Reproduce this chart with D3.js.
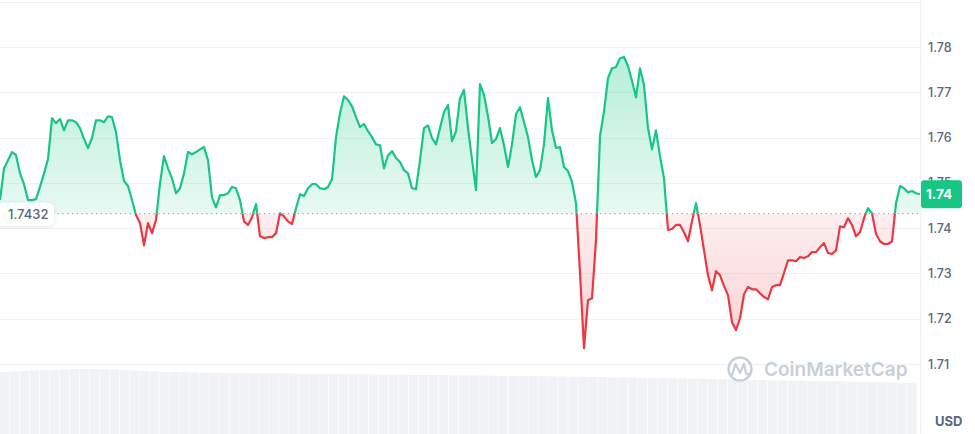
<!DOCTYPE html>
<html>
<head>
<meta charset="utf-8">
<script src="https://cdn.jsdelivr.net/npm/d3@7"></script>
<style>
  html, body { margin: 0; padding: 0; background: #ffffff; }
  svg { display: block; font-family: Inter, "Noto Sans", sans-serif; }
</style>
</head>
<body>
<svg id="chart" width="975" height="434"></svg>
<script>
// ---- data ----
const prices = [
  1.7462,1.7532,1.7550,1.7568,1.7561,1.7521,1.7497,1.7462,1.7462,1.7464,
  1.7491,1.7521,1.7552,1.7643,1.7632,1.7641,1.7616,1.7638,1.7638,1.7634,
  1.7621,1.7597,1.7577,1.7599,1.7638,1.7638,1.7634,1.7647,1.7645,1.7612,
  1.7550,1.7504,1.7493,1.7462,1.7429,1.7411,1.7362,1.7411,1.7389,1.7418,
  1.7499,1.7559,1.7532,1.7510,1.7477,1.7488,1.7521,1.7568,1.7563,1.7568,
  1.7574,1.7579,1.7550,1.7468,1.7446,1.7473,1.7473,1.7477,1.7491,1.7488,
  1.7462,1.7415,1.7407,1.7424,1.7453,1.7382,1.7378,1.7380,1.7380,1.7389,
  1.7433,1.7426,1.7415,1.7409,1.7444,1.7475,1.7471,1.7488,1.7497,1.7497,
  1.7488,1.7486,1.7491,1.7508,1.7601,1.7654,1.7691,1.7683,1.7669,1.7645,
  1.7623,1.7630,1.7614,1.7601,1.7585,1.7583,1.7532,1.7561,1.7570,1.7555,
  1.7546,1.7528,1.7521,1.7488,1.7486,1.7550,1.7621,1.7627,1.7599,1.7585,
  1.7621,1.7656,1.7672,1.7592,1.7614,1.7687,1.7705,1.7621,1.7552,1.7484,
  1.7718,1.7694,1.7647,1.7588,1.7597,1.7621,1.7583,1.7535,1.7585,1.7652,
  1.7667,1.7634,1.7601,1.7550,1.7513,1.7528,1.7585,1.7687,1.7616,1.7577,
  1.7579,1.7535,1.7526,1.7502,1.7455,1.7301,1.7135,1.7241,1.7245,1.7374,
  1.7603,1.7658,1.7731,1.7753,1.7756,1.7775,1.7778,1.7758,1.7725,1.7689,
  1.7753,1.7716,1.7621,1.7574,1.7616,1.7559,1.7510,1.7396,1.7398,1.7407,
  1.7407,1.7391,1.7371,1.7415,1.7455,1.7407,1.7351,1.7296,1.7263,1.7305,
  1.7296,1.7272,1.7252,1.7192,1.7175,1.7201,1.7254,1.7270,1.7265,1.7265,
  1.7256,1.7248,1.7243,1.7270,1.7274,1.7274,1.7301,1.7329,1.7329,1.7327,
  1.7336,1.7334,1.7338,1.7347,1.7347,1.7358,1.7367,1.7345,1.7343,1.7351,
  1.7404,1.7402,1.7422,1.7407,1.7382,1.7391,1.7422,1.7444,1.7433,1.7387,
  1.7371,1.7365,1.7365,1.7371,1.7455,1.7493,1.7488,1.7479,1.7482,1.7477,
  1.7475
];
const openPrice = 1.7432;
const openLabel = "1.7432";
const yTickValues = [1.71, 1.72, 1.73, 1.74, 1.75, 1.76, 1.77, 1.78];
const yTickLabels = ["1.71", "1.72", "1.73", "1.74", "1.75", "1.76", "1.77", "1.78"];
const currencyLabel = "USD";
const watermarkText = "CoinMarketCap";
// 24h volume (relative units)
const volumes = [
  62,62.5,63,63.5,64,64,64.5,65,65,65,
  64.8,64.5,64,63.5,63,62.5,62,62,61.8,61.5,
  61.5,61.3,61.2,61,61,60.8,60.8,60.6,60.5,60.5,
  60.3,60.2,60,60,59.8,59.7,59.6,59.5,59.4,59.3,
  59.2,59.1,59,58.9,58.8,58.7,58.6,58.5,58.4,58.3,
  58.2,58.1,58,57.9,57.8,57.7,57.5,57.3,57.2,57,
  56.9,56.8,56.6,56.4,56.2,56,55.8,55.6,55.5,55.3,
  55.1,54.9,54.7,54.5,54.3,54.1,53.9,53.7,53.6,53.4,
  53.2,53,52.9,52.7,52.5,52.3,52.1,51.9,51.7,51.5,
  51.2,51
];

// ---- layout ----
const W = 975, H = 434;
const plotRight = 920;
const green = "#16c784", red = "#ea3943";
const textGray = "#58667e";

const svg = d3.select("#chart");
const defs = svg.append("defs");

const x = d3.scaleLinear().domain([0, prices.length - 1]).range([0, plotRight]);
const y = d3.scaleLinear().domain([1.71, 1.78]).range([364, 47]);
const yBase = y(openPrice);

// gradients
const gG = defs.append("linearGradient").attr("id", "gGreen")
  .attr("gradientUnits", "userSpaceOnUse").attr("x1", 0).attr("x2", 0)
  .attr("y1", y(1.78)).attr("y2", yBase);
gG.append("stop").attr("offset", "0%").attr("stop-color", green).attr("stop-opacity", 0.32);
gG.append("stop").attr("offset", "100%").attr("stop-color", green).attr("stop-opacity", 0.1);
const gR = defs.append("linearGradient").attr("id", "gRed")
  .attr("gradientUnits", "userSpaceOnUse").attr("x1", 0).attr("x2", 0)
  .attr("y1", yBase).attr("y2", y(1.71));
gR.append("stop").attr("offset", "0%").attr("stop-color", red).attr("stop-opacity", 0.08);
gR.append("stop").attr("offset", "100%").attr("stop-color", red).attr("stop-opacity", 0.25);

defs.append("clipPath").attr("id", "clipTop").append("rect")
  .attr("x", 0).attr("y", 0).attr("width", plotRight).attr("height", yBase);
defs.append("clipPath").attr("id", "clipBot").append("rect")
  .attr("x", 0).attr("y", yBase).attr("width", plotRight).attr("height", H - yBase);

const shadow = defs.append("filter").attr("id", "shadow")
  .attr("x", "-30%").attr("y", "-50%").attr("width", "160%").attr("height", "200%");
shadow.append("feDropShadow").attr("dx", 0).attr("dy", 1).attr("stdDeviation", 2)
  .attr("flood-color", "#000").attr("flood-opacity", 0.12);

// volume bars
const xv = d3.scaleBand().domain(d3.range(volumes.length)).range([0, 916]).paddingInner(0.12);
const yv = d3.scaleLinear().domain([0, 70]).range([H, H - 70]);
svg.append("g").selectAll("rect").data(volumes).join("rect")
  .attr("x", (d, i) => xv(i))
  .attr("width", xv.bandwidth() + 0.6)
  .attr("y", d => yv(d))
  .attr("height", d => H - yv(d))
  .attr("fill", "#f0f2f5");

// gridlines
const gridVals = yTickValues.concat([1.79]);
svg.append("g").selectAll("line").data(gridVals).join("line")
  .attr("x1", 0).attr("x2", plotRight)
  .attr("y1", d => Math.round(y(d)) + 0.5).attr("y2", d => Math.round(y(d)) + 0.5)
  .attr("stroke", "#eff2f5").attr("stroke-width", 1);
// right border
svg.append("line").attr("x1", plotRight + 0.5).attr("x2", plotRight + 0.5)
  .attr("y1", 0).attr("y2", H).attr("stroke", "#eff2f5");

// watermark
const wm = svg.append("g");
wm.append("circle").attr("cx", 740).attr("cy", 369).attr("r", 11.5)
  .attr("fill", "none").attr("stroke", "#c9cfd8").attr("stroke-width", 2.4);
wm.append("path")
  .attr("d", "M732,375 L735.5,364 L740,373 L744,364 L746,373 Q747.5,376 750,373")
  .attr("fill", "none").attr("stroke", "#c9cfd8").attr("stroke-width", 2.2)
  .attr("stroke-linejoin", "round").attr("stroke-linecap", "round");
wm.append("text").attr("x", 764).attr("y", 376).text(watermarkText)
  .attr("font-size", 19).attr("font-weight", 600).attr("fill", "#c9cfd8");

// areas
const areaGen = d3.area().x((d, i) => x(i)).y0(yBase).y1(d => y(d));
svg.append("path").datum(prices).attr("d", areaGen)
  .attr("fill", "url(#gGreen)").attr("clip-path", "url(#clipTop)");
svg.append("path").datum(prices).attr("d", areaGen)
  .attr("fill", "url(#gRed)").attr("clip-path", "url(#clipBot)");

// open price dotted line
svg.append("line").attr("x1", 0).attr("x2", plotRight)
  .attr("y1", yBase).attr("y2", yBase)
  .attr("stroke", "#9aa3b5").attr("stroke-width", 1.2).attr("stroke-dasharray", "1.2,3.6");

// price lines
const lineGen = d3.line().x((d, i) => x(i)).y(d => y(d));
svg.append("path").datum(prices).attr("d", lineGen)
  .attr("fill", "none").attr("stroke", green).attr("stroke-width", 2.2)
  .attr("stroke-linejoin", "round").attr("clip-path", "url(#clipTop)");
svg.append("path").datum(prices).attr("d", lineGen)
  .attr("fill", "none").attr("stroke", red).attr("stroke-width", 2.2)
  .attr("stroke-linejoin", "round").attr("clip-path", "url(#clipBot)");

// open price label
const lg = svg.append("g");
lg.append("rect").attr("x", -6).attr("y", yBase - 11).attr("width", 60).attr("height", 23)
  .attr("rx", 6).attr("fill", "#fff").attr("filter", "url(#shadow)");
lg.append("text").attr("x", 8).attr("y", yBase + 5).text(openLabel)
  .attr("font-size", 13).attr("font-weight", 500).attr("fill", textGray);

// y axis labels
const axis = d3.axisRight(y).tickValues(yTickValues)
  .tickFormat((d, i) => yTickLabels[i]).tickSize(0).tickPadding(0);
const ag = svg.append("g").attr("transform", `translate(${plotRight + 8},0)`).call(axis);
ag.select(".domain").remove();
ag.selectAll("text").attr("font-size", 12.5).attr("font-weight", 500)
  .attr("fill", textGray).attr("font-family", "Inter, sans-serif");

// current price badge (drawn over the 1.75 tick label, as in the reference)
const last = prices[prices.length - 1];
const yLast = y(last);
svg.append("rect").attr("x", plotRight + 1).attr("y", yLast - 14).attr("width", 41).attr("height", 28)
  .attr("rx", 3).attr("fill", green);
svg.append("text").attr("x", plotRight + 6).attr("y", yLast + 5)
  .text((Math.floor(last * 100) / 100).toFixed(2))
  .attr("font-size", 13.5).attr("font-weight", 700).attr("fill", "#fff");

// currency label
svg.append("text").attr("x", 935).attr("y", 426).text(currencyLabel)
  .attr("font-size", 13).attr("font-weight", 700).attr("fill", textGray);
</script>
</body>
</html>
